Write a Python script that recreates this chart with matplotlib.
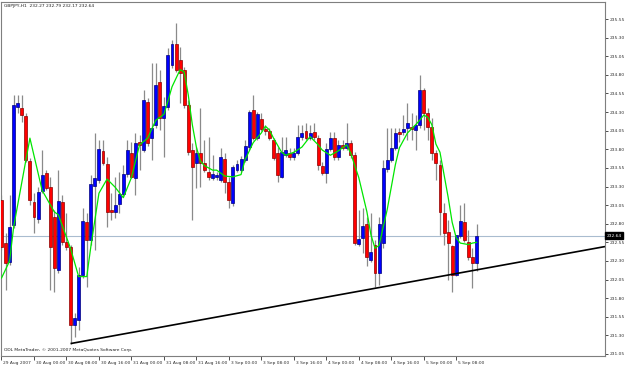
import matplotlib
matplotlib.use('Agg')
import matplotlib.pyplot as plt
import numpy as np
from matplotlib.transforms import ScaledTranslation, blended_transform_factory
from matplotlib import font_manager

# ---------------- data (GBPJPY, H1) ----------------
opens = [
    233.12, 232.54, 232.29, 232.78, 234.37, 234.36, 234.25, 233.64, 233.09, 232.86,
    233.24, 233.48, 233.29, 232.89, 232.18, 233.09, 232.56, 232.49, 231.44, 231.51,
    232.11, 232.82, 232.58, 233.31, 233.39, 233.78, 233.60, 232.99, 232.96, 233.07,
    233.20, 233.47, 233.75, 233.42, 233.90, 233.79, 234.44, 233.95, 234.13, 234.70,
    234.22, 234.37, 234.93, 235.22, 235.00, 234.87, 234.40, 233.79, 233.62, 233.75,
    233.62, 233.50, 233.42, 233.43, 233.39, 233.67, 233.36, 233.08, 233.52, 233.52,
    233.66, 233.83, 234.33, 233.95, 234.21, 234.07, 234.05, 233.93, 233.75, 233.43,
    233.72, 233.75, 233.70, 233.75, 233.97, 234.05, 233.95, 234.03, 233.95, 233.58,
    233.48, 233.80, 233.95, 233.70, 233.86, 233.82, 233.89, 233.72, 232.53, 232.61,
    232.80, 232.31, 232.52, 232.14, 232.54, 233.54, 233.66, 233.82, 234.03, 234.03,
    234.09, 234.10, 234.06, 234.13, 234.60, 234.29, 234.10, 233.75, 233.59, 232.95,
    232.69, 232.50, 232.11, 232.64, 232.82, 232.56, 232.35, 232.27]

highs = [
    233.19, 232.68, 233.19, 234.53, 234.53, 234.53, 234.29, 233.68, 233.21, 233.29,
    233.79, 233.52, 233.43, 232.99, 233.52, 233.19, 232.95, 232.52, 231.60, 232.22,
    233.01, 232.95, 233.46, 234.02, 233.93, 233.93, 233.70, 233.21, 233.43, 233.50,
    233.59, 233.93, 233.90, 234.02, 233.99, 234.60, 234.49, 234.96, 234.96, 234.87,
    234.50, 235.16, 235.27, 235.50, 235.18, 234.91, 234.46, 233.89, 233.83, 234.36,
    233.93, 233.97, 233.72, 233.50, 233.82, 233.75, 233.43, 233.59, 233.66, 233.71,
    233.93, 234.33, 234.53, 234.30, 234.29, 234.13, 234.09, 233.95, 233.83, 233.97,
    233.97, 233.82, 233.82, 234.13, 234.13, 234.15, 234.13, 234.15, 233.99, 233.63,
    233.89, 234.03, 234.03, 233.93, 233.93, 234.15, 233.93, 233.76, 232.99, 233.01,
    232.89, 232.95, 232.58, 232.89, 233.66, 234.09, 234.09, 234.09, 234.09, 234.26,
    234.42, 234.29, 234.26, 234.80, 234.62, 234.36, 234.22, 233.79, 233.66, 233.08,
    232.85, 232.52, 232.65, 233.05, 233.08, 232.72, 232.47, 232.79]

lows = [
    232.45, 231.91, 232.25, 232.74, 234.29, 234.17, 233.63, 233.05, 232.68, 232.81,
    233.21, 233.25, 231.91, 231.88, 232.14, 232.52, 232.45, 231.19, 231.28, 231.37,
    232.07, 231.95, 232.52, 232.45, 233.35, 233.59, 232.76, 232.85, 232.88, 232.95,
    233.16, 233.43, 233.42, 233.19, 233.52, 233.76, 233.85, 233.66, 234.09, 234.06,
    233.70, 234.33, 234.89, 234.84, 234.42, 234.36, 233.72, 232.85, 233.28, 233.29,
    233.50, 233.39, 233.39, 233.39, 233.36, 233.21, 233.01, 233.04, 233.50, 233.50,
    233.63, 233.79, 233.93, 233.93, 234.05, 233.99, 233.93, 233.66, 233.36, 233.42,
    233.70, 233.66, 233.66, 233.72, 233.93, 233.93, 233.93, 233.93, 233.52, 233.46,
    233.35, 233.78, 233.66, 233.66, 233.79, 233.79, 233.68, 232.52, 232.50, 232.41,
    232.23, 232.29, 231.95, 231.98, 232.47, 233.50, 233.63, 233.79, 233.90, 233.99,
    233.93, 233.93, 233.79, 234.09, 234.06, 233.93, 233.66, 233.39, 232.65, 232.52,
    232.04, 231.88, 232.10, 232.61, 232.56, 232.31, 231.94, 232.17]

closes = [
    232.49, 232.27, 232.76, 234.40, 234.42, 234.26, 233.66, 233.12, 232.89, 233.23,
    233.46, 233.28, 232.49, 232.21, 233.11, 232.56, 232.49, 231.44, 231.53, 232.11,
    232.84, 232.58, 233.33, 233.42, 233.80, 233.62, 232.96, 232.96, 233.05, 233.20,
    233.47, 233.79, 233.43, 233.89, 233.86, 234.46, 233.89, 234.09, 234.66, 234.22,
    234.38, 235.07, 235.22, 234.87, 234.83, 234.40, 233.76, 233.56, 233.75, 233.62,
    233.52, 233.43, 233.47, 233.46, 233.70, 233.36, 233.12, 233.56, 233.60, 233.67,
    233.85, 234.30, 233.95, 234.28, 234.07, 234.05, 233.95, 233.68, 233.46, 233.76,
    233.79, 233.70, 233.75, 233.97, 234.02, 233.95, 234.02, 233.97, 233.59, 233.48,
    233.80, 233.95, 233.70, 233.86, 233.82, 233.89, 233.72, 232.54, 232.60, 232.77,
    232.35, 232.42, 232.14, 232.80, 233.55, 233.66, 233.82, 234.02, 234.01, 234.07,
    234.15, 234.07, 234.13, 234.60, 234.29, 234.10, 233.75, 233.62, 232.96, 232.68,
    232.54, 232.11, 232.65, 232.84, 232.58, 232.35, 232.27, 232.64]

# moving average (green line) vertices: bar index -> value
ma_idx = [0, 2, 3, 7, 10, 13, 14, 16, 17, 19, 21, 22, 24, 26, 28, 30, 32, 34, 36, 38,
          40, 41, 42, 44, 45, 46, 47, 48, 49, 50, 52, 53, 55, 57, 59, 60, 62, 64, 65, 66,
          67, 69, 70, 72, 74, 76, 78, 79, 81, 83, 85, 86, 88, 90, 91, 92, 93, 95, 97, 98,
          100, 102, 103, 104, 105, 106, 107, 108, 109, 110, 111, 112, 113, 115, 116, 117]
ma_val = [232.07, 232.30, 232.76, 233.95, 233.25, 232.96, 232.92, 232.62, 232.47, 232.09,
          232.09, 232.49, 233.21, 233.40, 233.29, 233.15, 233.42, 233.86, 233.95, 234.19,
          234.27, 234.45, 234.64, 234.87, 234.84, 234.53, 234.13, 233.83, 233.64, 233.58,
          233.52, 233.52, 233.44, 233.43, 233.46, 233.66, 233.89, 234.02, 234.11, 234.06,
          233.95, 233.76, 233.72, 233.76, 233.83, 233.97, 233.86, 233.79, 233.72, 233.78,
          233.86, 233.75, 233.42, 232.96, 232.65, 232.47, 232.51, 232.99, 233.59, 233.82,
          234.02, 234.13, 234.19, 234.26, 234.23, 234.13, 233.87, 233.76, 233.46, 233.16,
          232.82, 232.61, 232.54, 232.52, 232.54, 232.55]

# trend line anchors (bar index, price)
trend_x = [17, 117]
trend_y = [231.19, 232.18]

# axes labels
y_ticks = [231.05, 231.30, 231.55, 231.80, 232.05, 232.30, 232.55, 232.80, 233.05,
           233.30, 233.55, 233.80, 234.05, 234.30, 234.55, 234.80, 235.05, 235.30, 235.55]
x_tick_bars = [0, 8, 16, 24, 32, 40, 48, 56, 64, 72, 80, 88, 96, 104, 112]
x_tick_labels = ["29 Aug 2007", "30 Aug 00:00", "30 Aug 08:00", "30 Aug 16:00",
                 "31 Aug 00:00", "31 Aug 08:00", "31 Aug 16:00", "3 Sep 00:00",
                 "3 Sep 08:00", "3 Sep 16:00", "4 Sep 00:00", "4 Sep 08:00",
                 "4 Sep 16:00", "5 Sep 00:00", "5 Sep 08:00"]
title_text = "GBPJPY,H1  232.27 232.79 232.17 232.64"
footer_text = "ODL MetaTrader, \u00a9 2001-2007 MetaQuotes Software Corp."
last_price = 232.64

# ---------------- drawing ----------------
names = {f.name for f in font_manager.fontManager.ttflist}
FONT = [n for n in ['Liberation Sans Narrow', 'DejaVu Sans'] if n in names] or ['DejaVu Sans']
plt.rcParams['font.family'] = FONT
FS = 3.7 if FONT[0] == 'Liberation Sans Narrow' else 3.2

W, H = 625, 367
fig = plt.figure(figsize=(W / 100, H / 100), dpi=100)
fig.patch.set_facecolor('white')
ax = fig.add_axes([1 / W, 11 / H, 604 / W, 354 / H])
ax.set_facecolor('white')

xmin = -0.123
xmax = xmin + 604 / 4.06
ax.set_xlim(xmin, xmax)
ax.set_ylim(231.023, 235.779)

o = np.array(opens); h = np.array(highs); l = np.array(lows); c = np.array(closes)
x = np.arange(len(o))
up = c >= o

# last price line
ax.axhline(last_price, color='#a9bccf', lw=0.8, zorder=1)

# wicks
ax.vlines(x, l, h, color='#8a8a8a', lw=0.9, zorder=2)

# bodies
bottom = np.minimum(o, c)
height = np.maximum(np.abs(c - o), 0.012)
ax.bar(x[up], height[up], bottom=bottom[up], width=0.72, color='#0000ff',
       edgecolor='#00007a', linewidth=0.5, zorder=3)
ax.bar(x[~up], height[~up], bottom=bottom[~up], width=0.72, color='#ff0000',
       edgecolor='#8a0000', linewidth=0.5, zorder=3)

# moving average
ax.plot(ma_idx, ma_val, color='#00e600', lw=0.9, zorder=4)

# trend line (ray to the right edge)
slope = (trend_y[1] - trend_y[0]) / (trend_x[1] - trend_x[0])
tx = [trend_x[0], xmax]
ty = [trend_y[0], trend_y[0] + slope * (xmax - trend_x[0])]
ax.plot(tx, ty, color='black', lw=1.2, zorder=5, solid_capstyle='butt')

# frame
for s in ax.spines.values():
    s.set_color('#7f7f7f')
    s.set_linewidth(0.8)

# y axis on right
ax.yaxis.tick_right()
ax.set_yticks(y_ticks)
ax.set_yticklabels([f"{v:.2f}" for v in y_ticks])
ax.tick_params(axis='y', direction='out', length=2, width=0.6, colors='#303030',
               labelsize=FS, pad=1.2)

# x axis
ax.set_xticks(x_tick_bars)
ax.set_xticklabels(x_tick_labels)
ax.tick_params(axis='x', direction='out', length=3, width=0.6, colors='#303030',
               labelsize=FS, pad=0.3)
shift = ScaledTranslation(2 / 100, 0, fig.dpi_scale_trans)
for lab in ax.get_xticklabels():
    lab.set_horizontalalignment('left')
    lab.set_transform(lab.get_transform() + shift)

# price tag
tr = blended_transform_factory(ax.transAxes, ax.transData)
ax.text(1.003, last_price, f"{last_price:.2f}", transform=tr, ha='left', va='center',
        fontsize=FS, color='white',
        bbox=dict(facecolor='black', edgecolor='black', boxstyle='square,pad=0.3'),
        zorder=10, clip_on=False)

# title and footer
ax.text(0.005, 0.993, title_text, transform=ax.transAxes, ha='left', va='top',
        fontsize=FS, color='#202020')
ax.text(0.005, 0.012, footer_text, transform=ax.transAxes, ha='left', va='bottom',
        fontsize=FS, color='#202020')

fig.savefig('out.png', dpi=100, facecolor='white')
